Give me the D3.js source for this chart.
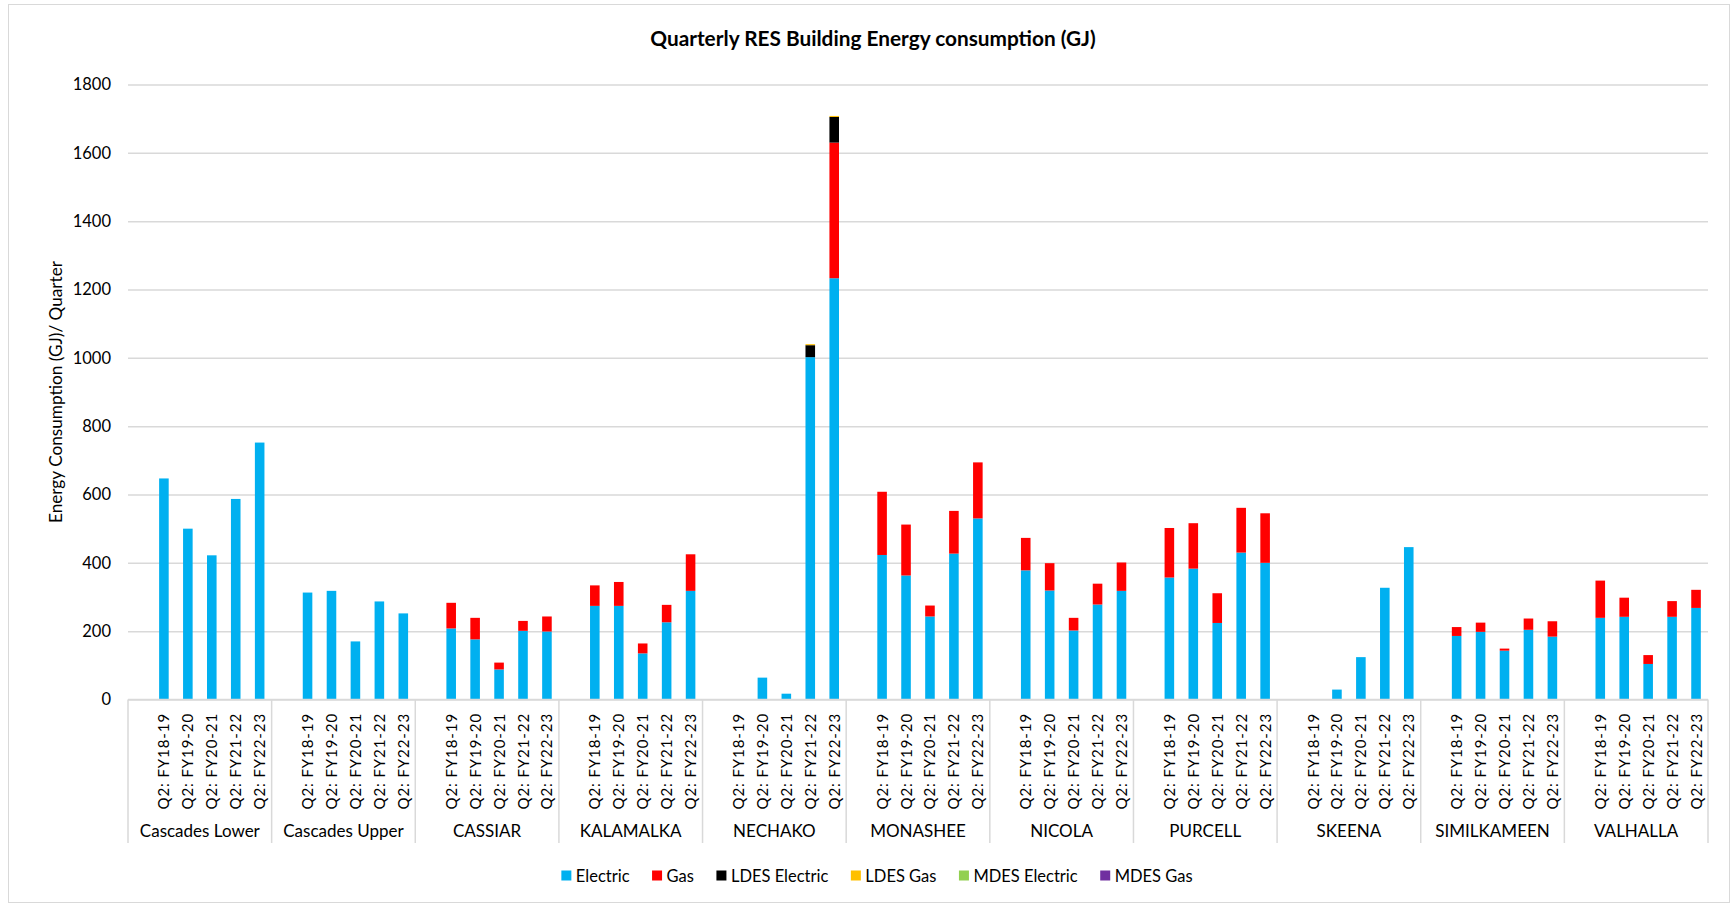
<!DOCTYPE html>
<html>
<head>
<meta charset="utf-8">
<script src="https://cdn.jsdelivr.net/npm/d3@7"></script>
<style>
  html, body { margin: 0; padding: 0; background: #fff; }
  svg { display: block; font-family: Lato, "Open Sans", sans-serif; }
</style>
</head>
<body>
<svg id="chart" width="1732" height="907"></svg>
<script>
// data
const regions = ["Cascades Lower", "Cascades Upper", "CASSIAR", "KALAMALKA", "NECHAKO",
  "MONASHEE", "NICOLA", "PURCELL", "SKEENA", "SIMILKAMEEN", "VALHALLA"];
const quarters = ["Q2: FY18-19", "Q2: FY19-20", "Q2: FY20-21", "Q2: FY21-22", "Q2: FY22-23"];

const seriesNames = ["Electric", "Gas", "LDES Electric", "LDES Gas", "MDES Electric", "MDES Gas"];
const seriesColors = ["#00B0F0", "#FF0000", "#000000", "#FFC000", "#92D050", "#7030A0"];

// one row per region, one value per quarter
const electric = [
  [647, 500, 422, 587, 752],
  [313, 318, 170, 287, 252],
  [208, 176, 88, 201, 199],
  [274, 274, 135, 226, 318],
  [0, 64, 17, 1002, 1233],
  [423, 363, 243, 427, 530],
  [378, 319, 202, 278, 318],
  [357, 383, 224, 430, 400],
  [0, 29, 124, 327, 446],
  [186, 198, 143, 204, 184],
  [239, 242, 104, 242, 268]
];
const gas = [
  [0, 0, 0, 0, 0],
  [0, 0, 0, 0, 0],
  [75, 63, 20, 29, 44],
  [60, 70, 29, 51, 107],
  [0, 0, 0, 0, 397],
  [185, 149, 32, 125, 164],
  [95, 80, 37, 61, 83],
  [145, 133, 87, 131, 145],
  [0, 0, 0, 0, 0],
  [26, 27, 6, 33, 45],
  [109, 56, 26, 46, 53]
];
const ldesElectric = [
  [0, 0, 0, 0, 0], [0, 0, 0, 0, 0], [0, 0, 0, 0, 0], [0, 0, 0, 0, 0],
  [0, 0, 0, 35, 75],
  [0, 0, 0, 0, 0], [0, 0, 0, 0, 0], [0, 0, 0, 0, 0], [0, 0, 0, 0, 0], [0, 0, 0, 0, 0], [0, 0, 0, 0, 0]
];
const ldesGas = [
  [0, 0, 0, 0, 0], [0, 0, 0, 0, 0], [0, 0, 0, 0, 0], [0, 0, 0, 0, 0],
  [0, 0, 0, 3, 3],
  [0, 0, 0, 0, 0], [0, 0, 0, 0, 0], [0, 0, 0, 0, 0], [0, 0, 0, 0, 0], [0, 0, 0, 0, 0], [0, 0, 0, 0, 0]
];
const mdesElectric = regions.map(() => [0, 0, 0, 0, 0]);
const mdesGas = regions.map(() => [0, 0, 0, 0, 0]);

const yTicks = [0, 200, 400, 600, 800, 1000, 1200, 1400, 1600, 1800];

// build the table: every region gets a blank leading slot, like the source sheet
const seriesData = [electric, gas, ldesElectric, ldesGas, mdesElectric, mdesGas];
const slots = [];
const rows = [];
regions.forEach((r, ri) => {
  slots.push(r + "|blank");
  quarters.forEach((q, qi) => {
    const key = r + "|" + q;
    slots.push(key);
    const row = { key: key, region: r, quarter: q };
    seriesNames.forEach((s, si) => { row[s] = seriesData[si][ri][qi]; });
    rows.push(row);
  });
});

const svg = d3.select("#chart");
const plot = { left: 128, right: 1708, top: 84.5, bottom: 699.5 };

// chart border
svg.append("rect")
  .attr("x", 8.5).attr("y", 4.5)
  .attr("width", 1721).attr("height", 898)
  .attr("fill", "#fff")
  .attr("stroke", "#d9d9d9")
  .attr("stroke-width", 1);

const x = d3.scaleBand().domain(slots).range([plot.left, plot.right]).padding(0);
const y = d3.scaleLinear().domain([0, 1800]).range([plot.bottom, plot.top]);
const barW = x.bandwidth() * 0.4;

// title
svg.append("text")
  .attr("x", 873).attr("y", 46)
  .attr("text-anchor", "middle")
  .attr("font-weight", "bold")
  .attr("font-size", 20.8)
  .attr("fill", "#000")
  .text("Quarterly RES Building Energy consumption (GJ)");

// gridlines + y labels
const yAxis = d3.axisLeft(y)
  .tickValues(yTicks)
  .tickFormat(d3.format("d"))
  .tickSize(-(plot.right - plot.left))
  .tickPadding(17);
const yg = svg.append("g")
  .attr("transform", `translate(${plot.left},0)`)
  .call(yAxis);
yg.select(".domain").remove();
yg.selectAll(".tick line").attr("stroke", "#d9d9d9").attr("stroke-width", 1.5);
yg.selectAll(".tick text")
  .attr("font-family", "Lato, sans-serif")
  .attr("font-size", 16.5)
  .attr("fill", "#000");

// y axis title
svg.append("text")
  .attr("transform", `translate(62,${(plot.top + plot.bottom) / 2}) rotate(-90)`)
  .attr("text-anchor", "middle")
  .attr("font-size", 17.2)
  .attr("fill", "#000")
  .text("Energy Consumption (GJ)/ Quarter");

// stacked bars
const stack = d3.stack().keys(seriesNames);
const layers = stack(rows);
svg.append("g")
  .selectAll("g")
  .data(layers)
  .join("g")
  .attr("fill", (d, i) => seriesColors[i])
  .selectAll("rect")
  .data(d => d.filter(p => p[1] > p[0]))
  .join("rect")
  .attr("x", d => x(d.data.key) + (x.bandwidth() - barW) / 2)
  .attr("y", d => y(d[1]))
  .attr("width", barW)
  .attr("height", d => y(d[0]) - y(d[1]));

// category axis line
svg.append("line")
  .attr("x1", plot.left).attr("x2", plot.right)
  .attr("y1", plot.bottom).attr("y2", plot.bottom)
  .attr("stroke", "#d9d9d9").attr("stroke-width", 1.5);

// group dividers
const groupW = (plot.right - plot.left) / regions.length;
svg.append("g")
  .selectAll("line")
  .data(d3.range(regions.length + 1))
  .join("line")
  .attr("x1", i => plot.left + i * groupW)
  .attr("x2", i => plot.left + i * groupW)
  .attr("y1", plot.bottom)
  .attr("y2", 843)
  .attr("stroke", "#d9d9d9").attr("stroke-width", 1.5);

// quarter labels (rotated)
svg.append("g")
  .selectAll("text")
  .data(rows)
  .join("text")
  .attr("transform", d => `translate(${x(d.key) + x.bandwidth() / 2 + 5.5},713) rotate(-90)`)
  .attr("text-anchor", "end")
  .attr("font-size", 15)
  .attr("letter-spacing", 0.9)
  .attr("fill", "#000")
  .text(d => d.quarter);

// region labels
svg.append("g")
  .selectAll("text")
  .data(regions)
  .join("text")
  .attr("x", (d, i) => plot.left + (i + 0.5) * groupW)
  .attr("y", 837)
  .attr("text-anchor", "middle")
  .attr("font-size", 17)
  .attr("fill", "#000")
  .text(d => d);

// legend, laid out from measured text widths
const legend = svg.append("g");
const items = legend.selectAll("g")
  .data(seriesNames)
  .join("g");
items.append("rect")
  .attr("width", 10).attr("height", 10)
  .attr("y", 870.5)
  .attr("fill", (d, i) => seriesColors[i]);
items.append("text")
  .attr("x", 14.5)
  .attr("y", 881.5)
  .attr("font-size", 16.5)
  .attr("fill", "#000")
  .text(d => d);
let cx = 0;
const offsets = [];
items.each(function () {
  offsets.push(cx);
  const w = d3.select(this).select("text").node().getComputedTextLength();
  cx += 14.5 + w + 22.5;
});
const totalW = cx - 22.5;
const start = 877 - totalW / 2;
items.attr("transform", (d, i) => `translate(${start + offsets[i]},0)`);
</script>
</body>
</html>
